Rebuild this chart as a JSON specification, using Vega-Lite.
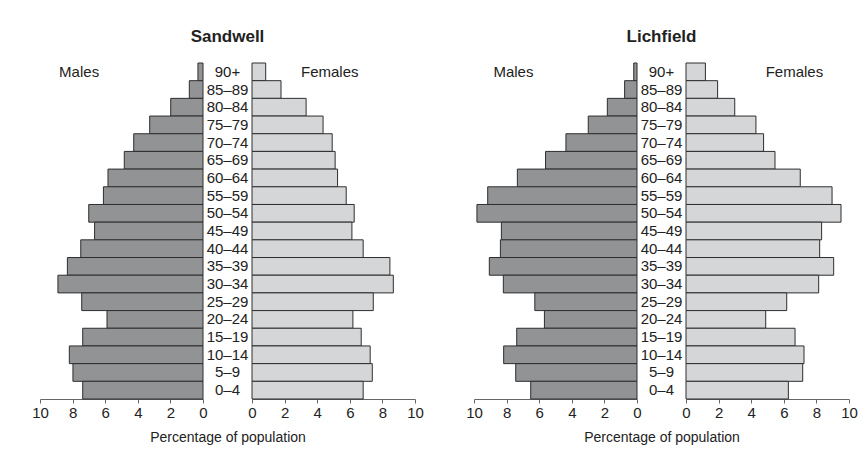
{
  "$schema": "https://vega.github.io/schema/vega-lite/v6.json",
  "background": "white",
  "padding": {"left": 31, "top": 28, "right": 5, "bottom": 5},
  "config": {
    "font": "Liberation Sans",
    "view": {"stroke": null},
    "axis": {"domainColor": "#666666", "tickColor": "#666666", "labelColor": "#222222", "labelFontSize": 15, "tickSize": 4, "grid": false, "labelPadding": 2},
    "title": {"fontSize": 17, "fontWeight": "bold", "color": "#222222", "anchor": "middle", "offset": 17}
  },
  "datasets": {
    "pop": [
      {"district": "Sandwell", "sex": "Male", "age": "90+", "pct": 0.31},
      {"district": "Sandwell", "sex": "Male", "age": "85–89", "pct": 0.84},
      {"district": "Sandwell", "sex": "Male", "age": "80–84", "pct": 1.98},
      {"district": "Sandwell", "sex": "Male", "age": "75–79", "pct": 3.27},
      {"district": "Sandwell", "sex": "Male", "age": "70–74", "pct": 4.25},
      {"district": "Sandwell", "sex": "Male", "age": "65–69", "pct": 4.83},
      {"district": "Sandwell", "sex": "Male", "age": "60–64", "pct": 5.83},
      {"district": "Sandwell", "sex": "Male", "age": "55–59", "pct": 6.11},
      {"district": "Sandwell", "sex": "Male", "age": "50–54", "pct": 7.01},
      {"district": "Sandwell", "sex": "Male", "age": "45–49", "pct": 6.65},
      {"district": "Sandwell", "sex": "Male", "age": "40–44", "pct": 7.5},
      {"district": "Sandwell", "sex": "Male", "age": "35–39", "pct": 8.32},
      {"district": "Sandwell", "sex": "Male", "age": "30–34", "pct": 8.9},
      {"district": "Sandwell", "sex": "Male", "age": "25–29", "pct": 7.44},
      {"district": "Sandwell", "sex": "Male", "age": "20–24", "pct": 5.89},
      {"district": "Sandwell", "sex": "Male", "age": "15–19", "pct": 7.38},
      {"district": "Sandwell", "sex": "Male", "age": "10–14", "pct": 8.2},
      {"district": "Sandwell", "sex": "Male", "age": "5–9", "pct": 7.98},
      {"district": "Sandwell", "sex": "Male", "age": "0–4", "pct": 7.38},
      {"district": "Sandwell", "sex": "Female", "age": "90+", "pct": 0.84},
      {"district": "Sandwell", "sex": "Female", "age": "85–89", "pct": 1.78},
      {"district": "Sandwell", "sex": "Female", "age": "80–84", "pct": 3.32},
      {"district": "Sandwell", "sex": "Female", "age": "75–79", "pct": 4.36},
      {"district": "Sandwell", "sex": "Female", "age": "70–74", "pct": 4.92},
      {"district": "Sandwell", "sex": "Female", "age": "65–69", "pct": 5.1},
      {"district": "Sandwell", "sex": "Female", "age": "60–64", "pct": 5.25},
      {"district": "Sandwell", "sex": "Female", "age": "55–59", "pct": 5.78},
      {"district": "Sandwell", "sex": "Female", "age": "50–54", "pct": 6.27},
      {"district": "Sandwell", "sex": "Female", "age": "45–49", "pct": 6.13},
      {"district": "Sandwell", "sex": "Female", "age": "40–44", "pct": 6.82},
      {"district": "Sandwell", "sex": "Female", "age": "35–39", "pct": 8.46},
      {"district": "Sandwell", "sex": "Female", "age": "30–34", "pct": 8.67},
      {"district": "Sandwell", "sex": "Female", "age": "25–29", "pct": 7.44},
      {"district": "Sandwell", "sex": "Female", "age": "20–24", "pct": 6.19},
      {"district": "Sandwell", "sex": "Female", "age": "15–19", "pct": 6.7},
      {"district": "Sandwell", "sex": "Female", "age": "10–14", "pct": 7.25},
      {"district": "Sandwell", "sex": "Female", "age": "5–9", "pct": 7.38},
      {"district": "Sandwell", "sex": "Female", "age": "0–4", "pct": 6.82},
      {"district": "Lichfield", "sex": "Male", "age": "90+", "pct": 0.2},
      {"district": "Lichfield", "sex": "Male", "age": "85–89", "pct": 0.76},
      {"district": "Lichfield", "sex": "Male", "age": "80–84", "pct": 1.82},
      {"district": "Lichfield", "sex": "Male", "age": "75–79", "pct": 2.99},
      {"district": "Lichfield", "sex": "Male", "age": "70–74", "pct": 4.36},
      {"district": "Lichfield", "sex": "Male", "age": "65–69", "pct": 5.61},
      {"district": "Lichfield", "sex": "Male", "age": "60–64", "pct": 7.34},
      {"district": "Lichfield", "sex": "Male", "age": "55–59", "pct": 9.16},
      {"district": "Lichfield", "sex": "Male", "age": "50–54", "pct": 9.82},
      {"district": "Lichfield", "sex": "Male", "age": "45–49", "pct": 8.32},
      {"district": "Lichfield", "sex": "Male", "age": "40–44", "pct": 8.38},
      {"district": "Lichfield", "sex": "Male", "age": "35–39", "pct": 9.06},
      {"district": "Lichfield", "sex": "Male", "age": "30–34", "pct": 8.2},
      {"district": "Lichfield", "sex": "Male", "age": "25–29", "pct": 6.27},
      {"district": "Lichfield", "sex": "Male", "age": "20–24", "pct": 5.68},
      {"district": "Lichfield", "sex": "Male", "age": "15–19", "pct": 7.38},
      {"district": "Lichfield", "sex": "Male", "age": "10–14", "pct": 8.18},
      {"district": "Lichfield", "sex": "Male", "age": "5–9", "pct": 7.44},
      {"district": "Lichfield", "sex": "Male", "age": "0–4", "pct": 6.52},
      {"district": "Lichfield", "sex": "Female", "age": "90+", "pct": 1.19},
      {"district": "Lichfield", "sex": "Female", "age": "85–89", "pct": 1.94},
      {"district": "Lichfield", "sex": "Female", "age": "80–84", "pct": 2.99},
      {"district": "Lichfield", "sex": "Female", "age": "75–79", "pct": 4.29},
      {"district": "Lichfield", "sex": "Female", "age": "70–74", "pct": 4.76},
      {"district": "Lichfield", "sex": "Female", "age": "65–69", "pct": 5.46},
      {"district": "Lichfield", "sex": "Female", "age": "60–64", "pct": 7.01},
      {"district": "Lichfield", "sex": "Female", "age": "55–59", "pct": 8.96},
      {"district": "Lichfield", "sex": "Female", "age": "50–54", "pct": 9.51},
      {"district": "Lichfield", "sex": "Female", "age": "45–49", "pct": 8.32},
      {"district": "Lichfield", "sex": "Female", "age": "40–44", "pct": 8.2},
      {"district": "Lichfield", "sex": "Female", "age": "35–39", "pct": 9.06},
      {"district": "Lichfield", "sex": "Female", "age": "30–34", "pct": 8.14},
      {"district": "Lichfield", "sex": "Female", "age": "25–29", "pct": 6.18},
      {"district": "Lichfield", "sex": "Female", "age": "20–24", "pct": 4.89},
      {"district": "Lichfield", "sex": "Female", "age": "15–19", "pct": 6.69},
      {"district": "Lichfield", "sex": "Female", "age": "10–14", "pct": 7.24},
      {"district": "Lichfield", "sex": "Female", "age": "5–9", "pct": 7.16},
      {"district": "Lichfield", "sex": "Female", "age": "0–4", "pct": 6.28}
    ]
  },
  "spacing": 0,
  "bounds": "flush",
  "hconcat": [
    {
      "width": 163, "height": 336,
      "layer": [
        {
          "data": {"name": "pop"},
          "transform": [{"filter": "datum.district === 'Sandwell' && datum.sex === 'Male'"}],
          "mark": {"type": "bar", "fill": "#929395", "stroke": "#2e2e2e", "strokeWidth": 1},
          "encoding": {
            "y": {"field": "age", "type": "nominal", "sort": ["90+","85–89","80–84","75–79","70–74","65–69","60–64","55–59","50–54","45–49","40–44","35–39","30–34","25–29","20–24","15–19","10–14","5–9","0–4"], "scale": {"paddingInner": 0, "paddingOuter": 0}, "axis": null},
            "x": {"field": "pct", "type": "quantitative", "scale": {"domain": [0, 10], "reverse": true}, "axis": {"values": [0,2,4,6,8,10], "tickCount": 11, "title": null, "labelOverlap": false, "labelFlush": false}}
          }
        },
        {
          "data": {"values": [{"label": "Males"}]},
          "mark": {"type": "text", "fontSize": 15, "color": "#222222"},
          "encoding": {"x": {"datum": 7.6}, "y": {"datum": "90+"}, "text": {"field": "label"}}
        }
      ]
    },
    {
      "width": 49, "height": 336,
      "title": {"text": "Sandwell"},
      "data": {"name": "pop"},
      "transform": [{"filter": "datum.district === 'Sandwell' && datum.sex === 'Male'"}],
      "mark": {"type": "text", "fontSize": 15, "color": "#222222"},
      "encoding": {
        "y": {"field": "age", "type": "nominal", "sort": ["90+","85–89","80–84","75–79","70–74","65–69","60–64","55–59","50–54","45–49","40–44","35–39","30–34","25–29","20–24","15–19","10–14","5–9","0–4"], "scale": {"paddingInner": 0, "paddingOuter": 0}, "axis": null},
        "x": {"datum": 0, "type": "quantitative", "scale": {"domain": [-1, 1]}, "axis": {"title": "Percentage of population", "labels": false, "ticks": false, "domain": false, "titleFontSize": 14, "titleFontWeight": "normal", "titleColor": "#222222", "titlePadding": 31}},
        "text": {"field": "age"}
      }
    },
    {
      "width": 163, "height": 336,
      "layer": [
        {
          "data": {"name": "pop"},
          "transform": [{"filter": "datum.district === 'Sandwell' && datum.sex === 'Female'"}],
          "mark": {"type": "bar", "fill": "#d5d6d8", "stroke": "#2e2e2e", "strokeWidth": 1},
          "encoding": {
            "y": {"field": "age", "type": "nominal", "sort": ["90+","85–89","80–84","75–79","70–74","65–69","60–64","55–59","50–54","45–49","40–44","35–39","30–34","25–29","20–24","15–19","10–14","5–9","0–4"], "scale": {"paddingInner": 0, "paddingOuter": 0}, "axis": null},
            "x": {"field": "pct", "type": "quantitative", "scale": {"domain": [0, 10]}, "axis": {"values": [0,2,4,6,8,10], "tickCount": 11, "title": null, "labelOverlap": false, "labelFlush": false}}
          }
        },
        {
          "data": {"values": [{"label": "Females"}]},
          "mark": {"type": "text", "fontSize": 15, "color": "#222222"},
          "encoding": {"x": {"datum": 4.77}, "y": {"datum": "90+"}, "text": {"field": "label"}}
        }
      ]
    },
    {
      "width": 59, "height": 336,
      "data": {"values": [{"label": ""}]},
      "mark": {"type": "text"},
      "encoding": {"text": {"field": "label"}}
    },
    {
      "width": 163, "height": 336,
      "layer": [
        {
          "data": {"name": "pop"},
          "transform": [{"filter": "datum.district === 'Lichfield' && datum.sex === 'Male'"}],
          "mark": {"type": "bar", "fill": "#929395", "stroke": "#2e2e2e", "strokeWidth": 1},
          "encoding": {
            "y": {"field": "age", "type": "nominal", "sort": ["90+","85–89","80–84","75–79","70–74","65–69","60–64","55–59","50–54","45–49","40–44","35–39","30–34","25–29","20–24","15–19","10–14","5–9","0–4"], "scale": {"paddingInner": 0, "paddingOuter": 0}, "axis": null},
            "x": {"field": "pct", "type": "quantitative", "scale": {"domain": [0, 10], "reverse": true}, "axis": {"values": [0,2,4,6,8,10], "tickCount": 11, "title": null, "labelOverlap": false, "labelFlush": false}}
          }
        },
        {
          "data": {"values": [{"label": "Males"}]},
          "mark": {"type": "text", "fontSize": 15, "color": "#222222"},
          "encoding": {"x": {"datum": 7.58}, "y": {"datum": "90+"}, "text": {"field": "label"}}
        }
      ]
    },
    {
      "width": 49, "height": 336,
      "title": {"text": "Lichfield"},
      "data": {"name": "pop"},
      "transform": [{"filter": "datum.district === 'Lichfield' && datum.sex === 'Male'"}],
      "mark": {"type": "text", "fontSize": 15, "color": "#222222"},
      "encoding": {
        "y": {"field": "age", "type": "nominal", "sort": ["90+","85–89","80–84","75–79","70–74","65–69","60–64","55–59","50–54","45–49","40–44","35–39","30–34","25–29","20–24","15–19","10–14","5–9","0–4"], "scale": {"paddingInner": 0, "paddingOuter": 0}, "axis": null},
        "x": {"datum": 0, "type": "quantitative", "scale": {"domain": [-1, 1]}, "axis": {"title": "Percentage of population", "labels": false, "ticks": false, "domain": false, "titleFontSize": 14, "titleFontWeight": "normal", "titleColor": "#222222", "titlePadding": 31}},
        "text": {"field": "age"}
      }
    },
    {
      "width": 163, "height": 336,
      "layer": [
        {
          "data": {"name": "pop"},
          "transform": [{"filter": "datum.district === 'Lichfield' && datum.sex === 'Female'"}],
          "mark": {"type": "bar", "fill": "#d5d6d8", "stroke": "#2e2e2e", "strokeWidth": 1},
          "encoding": {
            "y": {"field": "age", "type": "nominal", "sort": ["90+","85–89","80–84","75–79","70–74","65–69","60–64","55–59","50–54","45–49","40–44","35–39","30–34","25–29","20–24","15–19","10–14","5–9","0–4"], "scale": {"paddingInner": 0, "paddingOuter": 0}, "axis": null},
            "x": {"field": "pct", "type": "quantitative", "scale": {"domain": [0, 10]}, "axis": {"values": [0,2,4,6,8,10], "tickCount": 11, "title": null, "labelOverlap": false, "labelFlush": false}}
          }
        },
        {
          "data": {"values": [{"label": "Females"}]},
          "mark": {"type": "text", "fontSize": 15, "color": "#222222"},
          "encoding": {"x": {"datum": 6.65}, "y": {"datum": "90+"}, "text": {"field": "label"}}
        }
      ]
    }
  ]
}
